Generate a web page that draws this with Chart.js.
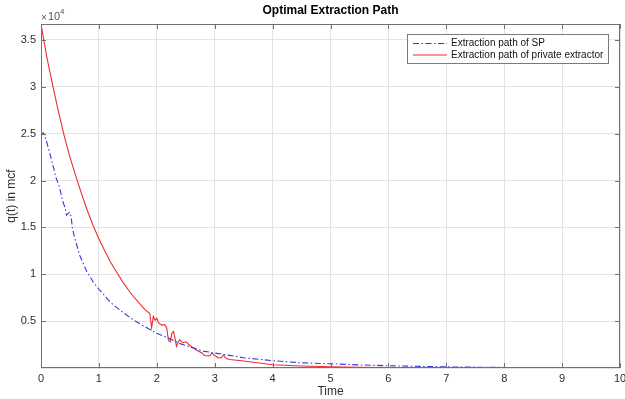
<!DOCTYPE html>
<html>
<head>
<meta charset="utf-8">
<script src="https://cdn.jsdelivr.net/npm/chart.js@4/dist/chart.umd.min.js"></script>
<style>
    html, body { margin: 0; padding: 0; background: #fff; }
    #wrap { width: 625px; height: 399px; position: relative; }
</style>
</head>
<body>
<div id="wrap"><canvas id="chart"></canvas></div>
<script>
// values, q in units of 10^4 mcf
const timeSP = [0, 0.04, 0.09, 0.17, 0.26, 0.32, 0.37, 0.42, 0.44, 0.49, 0.52, 0.54, 0.58, 0.67, 0.79, 0.9, 1.0,
    1.2, 1.4, 1.6, 1.8, 2.0, 2.2, 2.4, 2.6, 2.8, 3.0, 3.5, 4.0, 4.5, 5.0, 5.5, 6.0, 7.0, 8.0, 9.0, 10.0];
const qSP = [2.48, 2.51, 2.43, 2.25, 2.03, 1.93, 1.79, 1.70, 1.63, 1.66, 1.62, 1.50, 1.39, 1.20, 1.03, 0.92, 0.84,
    0.70, 0.60, 0.51, 0.44, 0.37, 0.32, 0.26, 0.22, 0.18, 0.16, 0.11, 0.078, 0.055, 0.045, 0.033, 0.024, 0.012, 0.006, 0.003, 0.0015];

const timePrivate = [0, 0.1, 0.2, 0.3, 0.4, 0.5, 0.6, 0.7, 0.8, 0.9, 1.0, 1.1, 1.2, 1.3, 1.4, 1.5, 1.6, 1.7, 1.8, 1.88,
    1.91, 1.94, 1.97, 2.0, 2.03, 2.08, 2.14, 2.17, 2.2, 2.23, 2.26, 2.29, 2.31, 2.34, 2.37, 2.4, 2.43, 2.46, 2.49, 2.52,
    2.57, 2.69, 2.78, 2.83, 2.92, 2.95, 3.01, 3.06, 3.12, 3.15, 3.2, 3.26, 3.5, 4.0, 4.5, 5.0, 5.5, 6.0, 7.0, 8.0, 9.0, 10.0];
const qPrivate = [3.67, 3.32, 3.02, 2.74, 2.48, 2.25, 2.05, 1.86, 1.68, 1.52, 1.38, 1.25, 1.13, 1.03, 0.93, 0.84, 0.76, 0.69, 0.62, 0.58,
    0.43, 0.55, 0.51, 0.53, 0.48, 0.46, 0.46, 0.43, 0.30, 0.28, 0.37, 0.39, 0.33, 0.23, 0.28, 0.30, 0.28, 0.27, 0.28, 0.27,
    0.24, 0.19, 0.16, 0.13, 0.13, 0.16, 0.13, 0.11, 0.11, 0.14, 0.10, 0.09, 0.075, 0.035, 0.022, 0.013, 0.008, 0.005, 0.002, 0.001, 0.0005, 0.0003];

const xTicks = [0, 1, 2, 3, 4, 5, 6, 7, 8, 9, 10];
const yTicks = [0.5, 1, 1.5, 2, 2.5, 3, 3.5];
const seriesNames = ["Extraction path of SP", "Extraction path of private extractor"];

const FONT = "Arial, 'Liberation Sans', Helvetica, sans-serif";
const AXIS_COLOR = "#707070";
const TEXT_COLOR = "#2e2e2e";
const BLUE = "rgb(55,55,225)";
const RED = "rgb(235,45,50)";
const SP_DASH = [6, 2.5, 1.5, 2.5];

function toPoints(xs, ys) {
    return xs.map((x, i) => ({ x: x, y: ys[i] }));
}

// box round the axes with inward ticks, titles, exponent and legend
const matlabLook = {
    id: "matlabLook",
    afterDraw(chart) {
        const ctx = chart.ctx;
        const a = chart.chartArea;
        const xs = chart.scales.x;
        const ys = chart.scales.y;
        ctx.save();

        ctx.strokeStyle = AXIS_COLOR;
        ctx.lineWidth = 1;
        ctx.strokeRect(Math.round(a.left) + 0.5, Math.round(a.top) + 0.5,
            Math.round(a.right - a.left) - 1, Math.round(a.bottom - a.top) - 1);

        ctx.beginPath();
        xTicks.forEach(t => {
            const px = Math.round(xs.getPixelForValue(t)) + 0.5;
            ctx.moveTo(px, a.bottom);
            ctx.lineTo(px, a.bottom - 5);
            ctx.moveTo(px, a.top);
            ctx.lineTo(px, a.top + 5);
        });
        yTicks.forEach(t => {
            const py = Math.round(ys.getPixelForValue(t)) + 0.5;
            ctx.moveTo(a.left, py);
            ctx.lineTo(a.left + 5, py);
            ctx.moveTo(a.right, py);
            ctx.lineTo(a.right - 5, py);
        });
        ctx.stroke();

        // title
        ctx.fillStyle = "#000";
        ctx.font = "bold 12px " + FONT;
        ctx.textAlign = "center";
        ctx.textBaseline = "middle";
        ctx.fillText("Optimal Extraction Path", (a.left + a.right) / 2, 11);

        // axis titles
        ctx.fillStyle = TEXT_COLOR;
        ctx.font = "12px " + FONT;
        ctx.fillText("Time", (a.left + a.right) / 2, 392);
        ctx.save();
        ctx.translate(12, (a.top + a.bottom) / 2);
        ctx.rotate(-Math.PI / 2);
        ctx.fillText("q(t) in mcf", 0, 0);
        ctx.restore();

        // exponent label
        ctx.textAlign = "left";
        ctx.fillStyle = "#555";
        ctx.font = "10px " + FONT;
        ctx.fillText("\u00d7", a.left, 18);
        ctx.font = "11px " + FONT;
        ctx.fillText("10", a.left + 7, 17);
        ctx.font = "8px " + FONT;
        ctx.fillText("4", a.left + 19, 12);

        // legend
        const lx = 407, ly = 34, lw = 201, lh = 29;
        ctx.fillStyle = "#fff";
        ctx.fillRect(lx, ly, lw, lh);
        ctx.strokeStyle = "#7a7a7a";
        ctx.strokeRect(lx + 0.5, ly + 0.5, lw, lh);
        const rows = [
            { name: seriesNames[0], color: BLUE, dash: SP_DASH },
            { name: seriesNames[1], color: RED, dash: [] }
        ];
        rows.forEach((r, i) => {
            const y = ly + 9.5 + i * 11.5;
            ctx.beginPath();
            ctx.setLineDash(r.dash);
            ctx.strokeStyle = r.color;
            ctx.moveTo(413, y);
            ctx.lineTo(447, y);
            ctx.stroke();
            ctx.setLineDash([]);
            ctx.fillStyle = "#111";
            ctx.font = "10px " + FONT;
            ctx.textBaseline = "middle";
            ctx.fillText(r.name, 451, y);
        });
        ctx.restore();
    }
};

new Chart(document.getElementById("chart"), {
    type: "scatter",
    data: {
        datasets: [
            {
                label: seriesNames[0],
                data: toPoints(timeSP, qSP),
                showLine: true,
                borderColor: BLUE,
                borderWidth: 1.1,
                borderDash: SP_DASH,
                pointRadius: 0,
                tension: 0
            },
            {
                label: seriesNames[1],
                data: toPoints(timePrivate, qPrivate),
                showLine: true,
                borderColor: RED,
                borderWidth: 1.1,
                pointRadius: 0,
                tension: 0
            }
        ]
    },
    options: {
        responsive: true,
        maintainAspectRatio: false,
        animation: false,
        events: [],
        layout: { padding: { top: 24, right: 5, left: 0, bottom: 0 } },
        plugins: {
            legend: { display: false },
            title: { display: false },
            tooltip: { enabled: false }
        },
        scales: {
            x: {
                type: "linear",
                min: 0,
                max: 10,
                afterFit: (s) => { s.height = 31; s.paddingLeft = 0; s.paddingRight = 0; },
                afterBuildTicks: (s) => { s.ticks = xTicks.map(v => ({ value: v })); },
                ticks: {
                    color: TEXT_COLOR,
                    font: { family: FONT, size: 11 },
                    padding: 4,
                    maxRotation: 0,
                    callback: (v) => String(v)
                },
                grid: { color: "#e3e3e3", drawTicks: false },
                border: { display: false }
            },
            y: {
                type: "linear",
                min: 0,
                max: 3.67,
                afterFit: (s) => { s.width = 41; s.paddingTop = 0; s.paddingBottom = 0; },
                afterBuildTicks: (s) => { s.ticks = [0].concat(yTicks).map(v => ({ value: v })); },
                ticks: {
                    color: TEXT_COLOR,
                    font: { family: FONT, size: 11 },
                    padding: 5,
                    callback: (v) => v === 0 ? "" : String(v)
                },
                grid: { color: "#e3e3e3", drawTicks: false },
                border: { display: false }
            }
        }
    },
    plugins: [matlabLook]
});
</script>
</body>
</html>
